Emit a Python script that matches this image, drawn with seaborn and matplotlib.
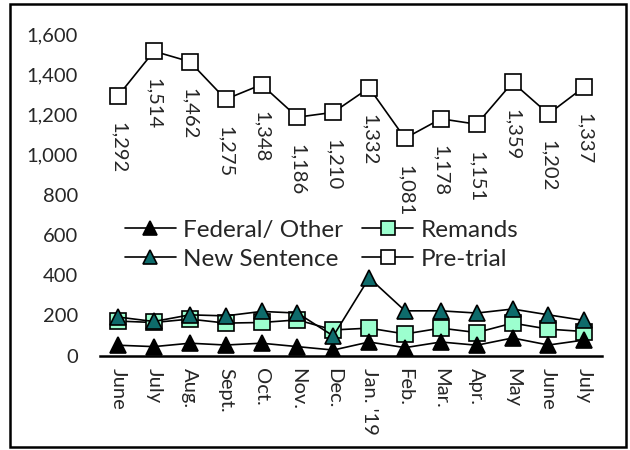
import matplotlib
matplotlib.use("Agg")
import matplotlib.pyplot as plt
import seaborn as sns
import pandas as pd
from matplotlib.patches import Rectangle
from matplotlib.ticker import FuncFormatter

months = ["June", "July", "Aug.", "Sept.", "Oct.", "Nov.", "Dec.", "Jan. '19",
          "Feb.", "Mar.", "Apr.", "May", "June", "July"]
pretrial = [1292, 1514, 1462, 1275, 1348, 1186, 1210, 1332, 1081, 1178, 1151, 1359, 1202, 1337]
new_sentence = [192, 170, 203, 198, 220, 212, 98, 387, 223, 223, 212, 232, 203, 175]
remands = [172, 165, 182, 162, 165, 178, 128, 137, 108, 137, 115, 162, 132, 120]
federal = [52, 45, 62, 53, 62, 45, 28, 68, 40, 68, 52, 88, 53, 78]

sns.set_style("white")
plt.rcParams['font.family'] = ['Lato', 'DejaVu Sans']
FS = 14.5

fig = plt.figure(figsize=(6.3, 4.5), dpi=100)
ax = fig.add_axes([0.159, 0.2096, 0.797, 0.715])

x = list(range(len(months)))
series = [
    ("Federal/ Other", federal, "^", "black"),
    ("New Sentence", new_sentence, "^", "#0E6B6B"),
    ("Remands", remands, "s", "#9CFFCF"),
    ("Pre-trial", pretrial, "s", "white"),
]
# draw lower ones last so the triangles sit on top like the original
for name, vals, mk, fc in [series[3], series[2], series[0], series[1]]:
    sns.lineplot(x=x, y=vals, ax=ax, color="black", linewidth=1.2,
                 marker=mk, markersize=12, markerfacecolor=fc,
                 markeredgecolor="black", markeredgewidth=1.2, label=name)

for xi, v in zip(x, pretrial):
    ax.annotate(f"{v:,}", (xi, v), xytext=(0, -19), textcoords="offset points",
                rotation=-90, ha="center", va="top", fontsize=FS)

ax.set_ylim(0, 1600)
ax.set_xlim(-0.5, len(months) - 0.5)
ax.set_yticks(range(0, 1601, 200))
ax.yaxis.set_major_formatter(FuncFormatter(lambda v, p: f"{int(v):,}"))
ax.set_xticks(x)
ax.set_xticklabels(months, rotation=-90, ha="center", va="top")
ax.tick_params(axis="y", length=0, pad=16, labelsize=FS)
ax.tick_params(axis="x", length=0, pad=9, labelsize=FS)

for s in ["top", "right", "left"]:
    ax.spines[s].set_visible(False)
ax.spines["bottom"].set_color("black")
ax.spines["bottom"].set_linewidth(1.8)

h, l = ax.get_legend_handles_labels()
order = ["Federal/ Other", "New Sentence", "Remands", "Pre-trial"]
hh = [h[l.index(n)] for n in order]
leg = ax.legend(hh, order, ncol=2, loc="center", bbox_to_anchor=(0.441, 0.345),
                frameon=False, fontsize=17.5, handlelength=2.1, handletextpad=0.3,
                columnspacing=0.8, labelspacing=0.32, borderpad=0)
for lh in leg.legend_handles:
    lh.set_markersize(10)

fig.add_artist(Rectangle((0.016, 0.006), 0.978, 0.985, transform=fig.transFigure,
                         fill=False, edgecolor="black", linewidth=1.8))

fig.savefig("out.png", dpi=100)
